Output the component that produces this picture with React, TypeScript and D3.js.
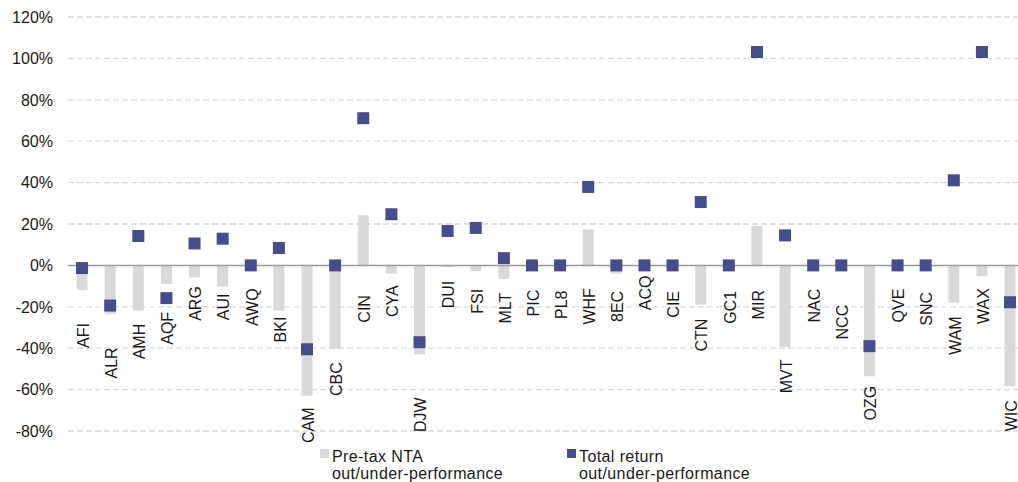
import React from "react";
import * as d3 from "d3";

const categories = ["AFI","ALR","AMH","AQF","ARG","AUI","AWQ","BKI","CAM","CBC","CIN","CYA","DJW","DUI","FSI","MLT","PIC","PL8","WHF","8EC","ACQ","CIE","CTN","GC1","MIR","MVT","NAC","NCC","OZG","QVE","SNC","WAM","WAX","WIC"];
const ntaPerf = [-11.8,-23.4,-21.8,-8.9,-5.8,-10.2,0,-21.8,-63,-40.3,24.2,-4,-43,-0.8,-2.8,-6.5,0,0,17.4,-4,0,0,-19,0,19,-39.5,0,0,-53.6,0,0,-18,-5.2,-58.4];
const totalPerf = [-1.3,-19.4,14.2,-15.8,10.6,12.9,0,8.4,-40.5,0,71.1,24.7,-37.1,16.6,18.1,3.5,0,0,37.9,0,0,0,30.6,0,103.1,14.5,0,0,-39,0,0,41.1,103.1,-17.8];
const labelLevel = [-33.9,-47.1,-36.8,-30.4,-18.4,-20,-20.2,-31,-77.2,-54.9,-21,-17.3,-72.1,-14.1,-17.3,-20.6,-18.2,-19,-19.8,-19.8,-13.3,-18.8,-33.7,-20.3,-19,-53.6,-19.4,-27.4,-66.6,-19.4,-21,-33.9,-19.6,-72.6];
const yTicks = [-80,-60,-40,-20,0,20,40,60,80,100,120];
const legendItems = ["Pre-tax NTA|out/under-performance", "Total return|out/under-performance"];

const W = 1018, H = 482;
const FONT = "'Liberation Sans', Arial, sans-serif";
const BAR = "#d9d9d9";
const SQ = "#474c8b";

export default function App() {
  const x = d3.scaleBand<string>().domain(categories).range([68, 1024.1]).padding(0);
  const y = d3.scaleLinear().domain([-80, 120]).range([431, 17]);
  const step = x.step();
  const barW = 11;
  const sq = 12;
  const cx = (c: string) => (x(c) as number) + step / 2;

  return (
    <svg width={W} height={H} style={{ position: "absolute", left: 0, top: 0, background: "#fff", fontFamily: FONT }}>
      {yTicks.map((t) => (
        <g key={t}>
          {t !== 0 && (
            <line x1={68} x2={W} y1={y(t)} y2={y(t)} stroke="#d9d9d9" strokeWidth={1.3} strokeDasharray="6,3" />
          )}
          <text x={53} y={y(t)} dy="0.36em" textAnchor="end" fontSize={16} fill="#1a1a1a">{`${t}%`}</text>
        </g>
      ))}
      {categories.map((c, i) => {
        const v = ntaPerf[i];
        return (
          <rect key={c} x={cx(c) - barW / 2} width={barW} y={Math.min(y(v), y(0))} height={Math.abs(y(v) - y(0))} fill={BAR} />
        );
      })}
      <line x1={68} x2={W} y1={y(0)} y2={y(0)} stroke="#9a9a9a" strokeWidth={1.5} />
      {categories.map((c, i) => (
        <rect key={c} x={cx(c) - sq / 2} y={y(totalPerf[i]) - sq / 2} width={sq} height={sq} fill={SQ} />
      ))}
      {categories.map((c, i) => (
        <text key={c} transform={`translate(${cx(c) + 1},${y(labelLevel[i])}) rotate(-90)`} textAnchor="middle" dy="0.36em" fontSize={16} fill="#1a1a1a">{c}</text>
      ))}
      {legendItems.map((item, i) => {
        const lx = i === 0 ? 320 : 567;
        const lines = item.split("|");
        return (
          <g key={item}>
            <rect x={lx} y={449} width={9} height={9} fill={i === 0 ? BAR : SQ} />
            {lines.map((ln, j) => (
              <text key={j} x={lx + 12} y={461.5 + j * 17.5} fontSize={16} letterSpacing={0.4} fill="#1a1a1a">{ln}</text>
            ))}
          </g>
        );
      })}
    </svg>
  );
}
